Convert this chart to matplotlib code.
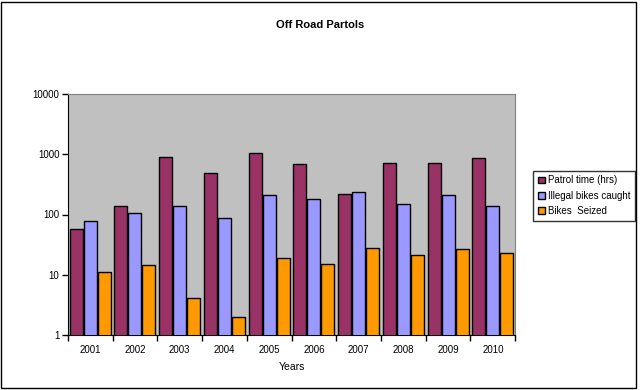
import numpy as np
import matplotlib.pyplot as plt
from matplotlib.patches import Rectangle
from matplotlib.ticker import FixedLocator, NullLocator

years = ["2001", "2002", "2003", "2004", "2005", "2006", "2007", "2008", "2009", "2010"]
patrol_time = [57, 138, 895, 486, 1043, 685, 218, 712, 712, 861]
illegal_bikes = [78, 105, 138, 88, 207, 180, 235, 149, 207, 138]
bikes_seized = [11.1, 14.5, 4.1, 2.0, 18.9, 15, 27.7, 20.9, 26.7, 22.9]

series = [
    ("Patrol time (hrs)", patrol_time, "#993366"),
    ("Illegal bikes caught", illegal_bikes, "#9999FF"),
    ("Bikes  Seized", bikes_seized, "#FF9900"),
]

plt.rcParams['font.family'] = ['Liberation Sans', 'DejaVu Sans']

fig = plt.figure(figsize=(6.4, 3.9), dpi=100)
ax = fig.add_axes([0.106, 0.141, 0.699, 0.618])

x = np.arange(len(years))
width = 0.29
step = 0.313
for i, (name, vals, col) in enumerate(series):
    ax.bar(x + (i - 1) * step, vals, width, color=col,
           edgecolor='black', linewidth=1, label=name, zorder=3)

ax.set_yscale('log')
ax.set_ylim(1, 10000)
ax.set_xlim(-0.5, len(years) - 0.5)
ax.set_facecolor('#C0C0C0')

ax.yaxis.set_major_locator(FixedLocator([1, 10, 100, 1000, 10000]))
ax.yaxis.set_minor_locator(NullLocator())
ax.set_yticklabels(["1", "10", "100", "1000", "10000"], fontsize=7)

ax.set_xticks(x)
ax.set_xticklabels(years, fontsize=7)
ax.set_xticks(np.arange(-0.5, len(years)), minor=True)
ax.tick_params(axis='x', which='major', length=0, pad=7)
ax.tick_params(axis='x', which='minor', length=4, direction='out', width=1)
ax.tick_params(axis='y', length=4, direction='out', width=1, pad=2)

for side in ['top', 'right']:
    ax.spines[side].set_color('#808080')
for side in ['left', 'bottom']:
    ax.spines[side].set_color('black')

ax.set_xlabel("Years", fontsize=7.5, labelpad=5)
fig.text(0.5, 0.935, "Off Road Partols", ha='center', va='center',
         fontsize=8, fontweight='bold')

leg = fig.legend(loc='center left', bbox_to_anchor=(0.833, 0.498), fontsize=7,
                 frameon=True, fancybox=False, edgecolor='black',
                 handlelength=0.7, handleheight=0.7, handletextpad=0.3,
                 borderpad=0.5, labelspacing=0.55, borderaxespad=0)
leg.get_frame().set_linewidth(1)

fig.patches.append(Rectangle((0.002, 0.006), 0.992, 0.988, transform=fig.transFigure,
                             fill=False, edgecolor='black', linewidth=1))

fig.savefig("out.png", dpi=100)
